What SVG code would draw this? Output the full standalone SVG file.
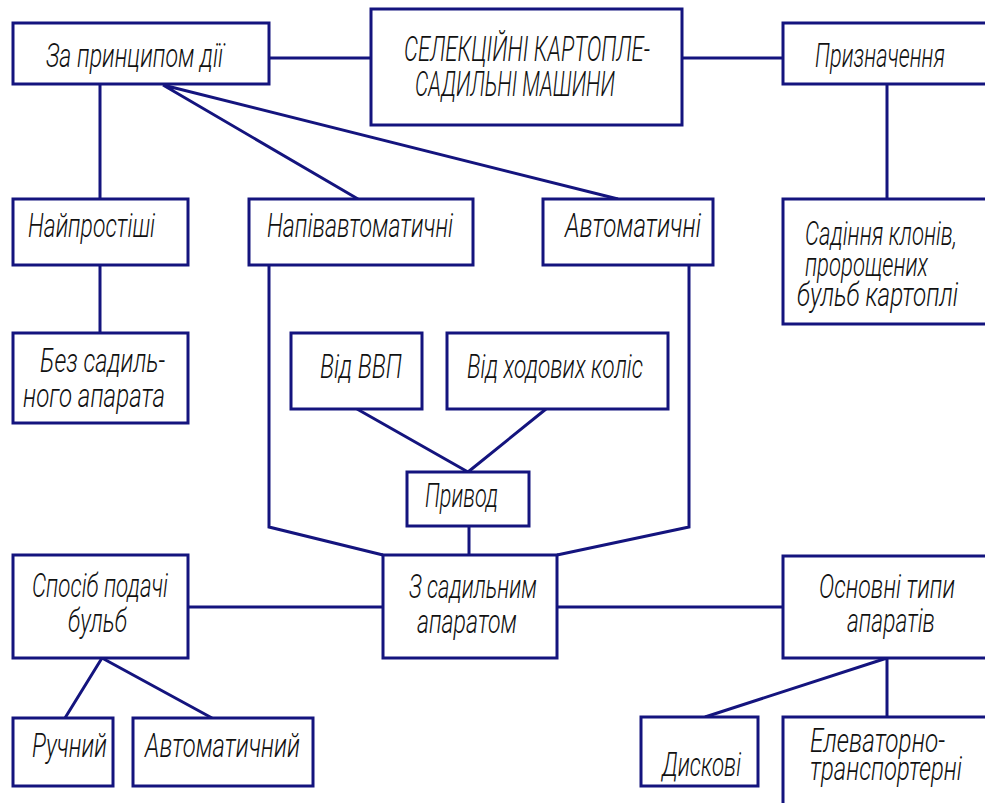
<svg xmlns="http://www.w3.org/2000/svg" width="985" height="803" viewBox="0 0 985 803">
<style>
.b{fill:#fff;stroke:#14147e;stroke-width:3}
.c{fill:none;stroke:#14147e;stroke-width:3;stroke-linejoin:miter}
text{font-family:Roboto,"Liberation Sans",sans-serif;font-style:italic;font-weight:300;font-size:34px;fill:#111}
.h{font-size:35px}
</style>
<rect width="985" height="803" fill="#fff"/>
<g id="connectors">
<path class="c" d="M269 58H371M682 58H783M100 84V199M163 85L358 199M163 85L618 199M887 84V199M100 265V333M269 265V527L383 555M689 265V527L557 555M357 409L468 472M546 409L468 472M469 526V555M188 607H383M557 607H783M102 658L65 718M102 658L212 718M887 658V717M887 658L705 717"/>
</g>
<g id="n-za"><rect class="b" x="13" y="23" width="256" height="61"/><text x="46" y="67" textLength="177" lengthAdjust="spacingAndGlyphs">За принципом дії</text></g>
<g id="n-central"><rect class="b" x="371" y="9" width="311" height="116"/><text class="h" x="404" y="61" textLength="246" lengthAdjust="spacingAndGlyphs">СЕЛЕКЦІЙНІ КАРТОПЛЕ-</text><text class="h" x="415" y="96" textLength="200" lengthAdjust="spacingAndGlyphs">САДИЛЬНІ МАШИНИ</text></g>
<g id="n-pryzn"><path class="b" d="M985 23H783V84H985"/><text x="815" y="67" textLength="130" lengthAdjust="spacingAndGlyphs">Призначення</text></g>
<g id="n-naiprost"><rect class="b" x="13" y="199" width="175" height="66"/><text x="28" y="237" textLength="127" lengthAdjust="spacingAndGlyphs">Найпростіші</text></g>
<g id="n-napiv"><rect class="b" x="249" y="199" width="224" height="66"/><text x="267" y="237" textLength="186" lengthAdjust="spacingAndGlyphs">Напівавтоматичні</text></g>
<g id="n-avtomat"><rect class="b" x="543" y="199" width="170" height="66"/><text x="565" y="237" textLength="136" lengthAdjust="spacingAndGlyphs">Автоматичні</text></g>
<g id="n-sadinnia"><path class="b" d="M985 199H783V324H985"/><text x="805" y="245" textLength="152" lengthAdjust="spacingAndGlyphs">Садіння клонів,</text><text x="805" y="276" textLength="123" lengthAdjust="spacingAndGlyphs">пророщених</text><text x="797" y="306" textLength="161" lengthAdjust="spacingAndGlyphs">бульб картоплі</text></g>
<g id="n-bez"><rect class="b" x="13" y="333" width="175" height="90"/><text x="40" y="372" textLength="125" lengthAdjust="spacingAndGlyphs">Без садиль-</text><text x="23" y="407" textLength="142" lengthAdjust="spacingAndGlyphs">ного апарата</text></g>
<g id="n-vvp"><rect class="b" x="291" y="333" width="131" height="76"/><text x="320" y="378" textLength="82" lengthAdjust="spacingAndGlyphs">Від ВВП</text></g>
<g id="n-kolis"><rect class="b" x="447" y="333" width="221" height="76"/><text x="467" y="378" textLength="176" lengthAdjust="spacingAndGlyphs">Від ходових коліс</text></g>
<g id="n-pryvod"><rect class="b" x="407" y="472" width="122" height="54"/><text x="425" y="507" textLength="73" lengthAdjust="spacingAndGlyphs">Привод</text></g>
<g id="n-zsad"><rect class="b" x="383" y="555" width="174" height="103"/><text x="409" y="598" textLength="128" lengthAdjust="spacingAndGlyphs">З садильним</text><text x="417" y="633" textLength="100" lengthAdjust="spacingAndGlyphs">апаратом</text></g>
<g id="n-sposib"><rect class="b" x="13" y="555" width="175" height="103"/><text x="32" y="597" textLength="136" lengthAdjust="spacingAndGlyphs">Спосіб подачі</text><text x="68" y="632" textLength="59" lengthAdjust="spacingAndGlyphs">бульб</text></g>
<g id="n-osnovni"><path class="b" d="M985 556H783V658H985"/><text x="819" y="598" textLength="136" lengthAdjust="spacingAndGlyphs">Основні типи</text><text x="847" y="632" textLength="88" lengthAdjust="spacingAndGlyphs">апаратів</text></g>
<g id="n-ruchnyi"><rect class="b" x="13" y="718" width="100" height="68"/><text x="32" y="757" textLength="75" lengthAdjust="spacingAndGlyphs">Ручний</text></g>
<g id="n-avtomatychnyi"><rect class="b" x="133" y="718" width="180" height="68"/><text x="145" y="757" textLength="155" lengthAdjust="spacingAndGlyphs">Автоматичний</text></g>
<g id="n-dyskovi"><rect class="b" x="641" y="717" width="117" height="69"/><text x="662" y="776" textLength="79" lengthAdjust="spacingAndGlyphs">Дискові</text></g>
<g id="n-elevator"><path class="b" d="M985 717H783V803"/><text x="810" y="752" textLength="135" lengthAdjust="spacingAndGlyphs">Елеваторно-</text><text x="810" y="780" textLength="152" lengthAdjust="spacingAndGlyphs">транспортерні</text></g>
</svg>
